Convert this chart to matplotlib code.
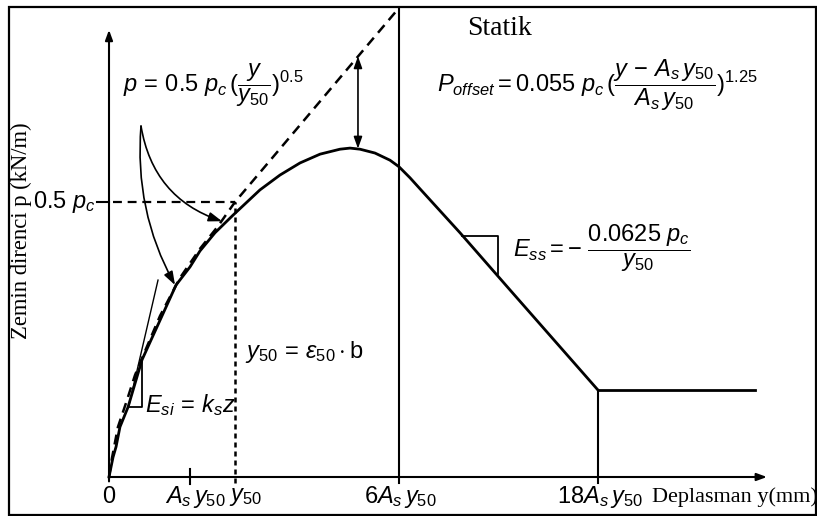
import numpy as np
import matplotlib
matplotlib.use("Agg")
import matplotlib.pyplot as plt
from matplotlib.patches import Rectangle

plt.rcParams["mathtext.fontset"] = "custom"
plt.rcParams["mathtext.rm"] = "Liberation Sans"
plt.rcParams["mathtext.it"] = "Liberation Sans:italic"
plt.rcParams["mathtext.bf"] = "Liberation Sans:bold"
plt.rcParams["font.family"] = ["Liberation Sans", "DejaVu Sans"]

SERIF = "Liberation Serif"

# x in units of y50, p in units of p_c
As_y50 = 0.643
y50 = 1.0
six_As_y50 = 2.302
eighteen_As_y50 = 3.881
x_end = 5.222
p_top = 0.813
p_res = 0.158
x_res_end = 5.127

# p-y curve (solid)
curve_x = [0.0, 0.032, 0.056, 0.087, 0.151, 0.262, 0.405, 0.532, 0.643, 0.722,
           0.841, 0.984, 1.198, 1.357, 1.516, 1.675, 1.833, 1.913, 1.992, 2.111,
           2.230, 2.302, 2.389, 2.468, 2.627, 2.786, 3.183, 3.881]
curve_p = [0.0, 0.036, 0.055, 0.091, 0.127, 0.213, 0.285, 0.349, 0.382, 0.411,
           0.444, 0.476, 0.522, 0.549, 0.571, 0.587, 0.596, 0.598, 0.596, 0.589,
           0.576, 0.564, 0.544, 0.524, 0.484, 0.444, 0.340, p_res]

# p = 0.5 p_c (y/y50)^0.5 (dashed)
sq_x = [0.0, 0.024, 0.071, 0.143, 0.206, 0.262, 0.405, 0.563, 0.722, 0.865, 1.0, 2.302]
sq_p = [0.0, 0.035, 0.091, 0.140, 0.185, 0.216, 0.293, 0.362, 0.415, 0.456, 0.5, 0.853]

# initial stiffness tangent and slope triangles
tan_x = [0.159, 0.389]
tan_p = [0.131, 0.358]
tri_si_x = [0.151, 0.262, 0.262]
tri_si_p = [0.127, 0.127, 0.213]
tri_ss_x = [2.802, 3.087, 3.087]
tri_ss_p = [0.438, 0.438, 0.369]

# offset arrow and pointer arrows
off_x = 1.976
off_p = [0.765, 0.597]
ptr_start = (0.254, 0.638)
ptr_ends = [(0.897, 0.465), (0.524, 0.349)]
ptr_rads = [0.3, 0.15]

fig = plt.figure(figsize=(8.17, 5.16), dpi=100)
ax = fig.add_axes([0, 0, 1, 1])
ax.set_xlim(-109 / 126, (817 - 109) / 126)
ax.set_ylim(-39 / 550, 477 / 550)
ax.axis("off")

fig.patches.append(Rectangle((9 / 817, 1 / 516), 807 / 817, 508 / 516,
                             transform=fig.transFigure, fill=False,
                             edgecolor="black", linewidth=1.6))

k = "black"
head = dict(arrowstyle="-|>,head_length=0.6,head_width=0.22", color=k, lw=1.5,
            shrinkA=0, shrinkB=0)

# axes with arrows
ax.annotate("", xy=(0, p_top), xytext=(0, -0.008), arrowprops=head)
ax.annotate("", xy=(x_end, 0), xytext=(0, 0), arrowprops=head)
ax.plot([As_y50, As_y50], [-0.013, 0.015], color=k, lw=1.5)
ax.plot([-0.095, 0], [0.5, 0.5], color=k, lw=1.5)

# curves
ax.plot(curve_x, curve_p, color=k, lw=2.0, solid_joinstyle="round")
ax.plot([eighteen_As_y50, x_res_end], [p_res, p_res], color=k, lw=2.0)
ax.plot(sq_x, sq_p, color=k, lw=1.8, dashes=(4, 2.6))

# guide lines
ax.plot([0.03, y50], [0.5, 0.5], color=k, lw=1.6, dashes=(4, 2.6))
ax.plot([y50, y50], [-0.011, 0.5], color=k, lw=1.8, dashes=(2, 1.6))
ax.plot([six_As_y50, six_As_y50], [-0.011, 0.853], color=k, lw=1.5)
ax.plot([eighteen_As_y50, eighteen_As_y50], [-0.011, p_res], color=k, lw=1.5)

ax.plot(tan_x, tan_p, color=k, lw=1.0)
ax.plot(tri_si_x, tri_si_p, color=k, lw=1.3)
ax.plot(tri_ss_x, tri_ss_p, color=k, lw=1.3)

dbl = dict(arrowstyle="<|-|>,head_length=0.7,head_width=0.25", color=k, lw=1.2,
           shrinkA=0, shrinkB=0)
ax.annotate("", xy=(off_x, off_p[1]), xytext=(off_x, off_p[0]), arrowprops=dbl)

for end, rad in zip(ptr_ends, ptr_rads):
    ax.annotate("", xy=end, xytext=ptr_start,
                arrowprops=dict(arrowstyle="-|>,head_length=0.8,head_width=0.28",
                                color=k, lw=1.2, shrinkA=0, shrinkB=0,
                                connectionstyle=f"arc3,rad={rad}"))

# formulas
fs = 17
ax.text(0.111, 0.713, r"$p\,=\,0.5\ p_c\,(\dfrac{y}{y_{50}})^{0.5}$",
        fontsize=fs, va="center", ha="left")
ax.text(2.603, 0.713,
        r"$P_{offset}=0.055\ p_c\,(\dfrac{y\,-\,A_s\,y_{50}}{A_s\,y_{50}})^{1.25}$",
        fontsize=fs, va="center", ha="left")
ax.text(3.206, 0.415, r"$E_{ss}=-\ \dfrac{0.0625\ p_c}{y_{50}}$",
        fontsize=fs, va="center", ha="left")
ax.text(1.079, 0.227, r"$y_{50}\,=\,\varepsilon_{50}\cdot \mathrm{b}$",
        fontsize=fs, va="center", ha="left")
ax.text(0.286, 0.131, r"$E_{si}\,=\,k_s z$", fontsize=fs, va="center", ha="left")
ax.text(-0.11, 0.5, r"$0.5\ p_c$", fontsize=fs, va="center", ha="right")

ax.text(2.841, 0.816, "Statik", fontsize=20, family=SERIF, va="center", ha="left")

# x tick labels
ty = -0.036
ax.text(0, ty, "0", fontsize=fs, va="center", ha="center")
ax.text(0.683, ty, r"$A_s\,y_{50}$", fontsize=fs, va="center", ha="center")
ax.text(0.95, ty, r"$y_{50}$", fontsize=fs, va="center", ha="left")
ax.text(2.31, ty, r"$6A_s\,y_{50}$", fontsize=fs, va="center", ha="center")
ax.text(3.897, ty, r"$18A_s\,y_{50}$", fontsize=fs, va="center", ha="center")
ax.text(4.31, ty, "Deplasman y(mm)", fontsize=16, family=SERIF, va="center", ha="left")

ax.text(-0.698, 0.447, "Zemin direnci p (kN/m)", fontsize=16.3, family=SERIF,
        rotation=90, va="center", ha="center")

fig.savefig("out.png", dpi=100)
